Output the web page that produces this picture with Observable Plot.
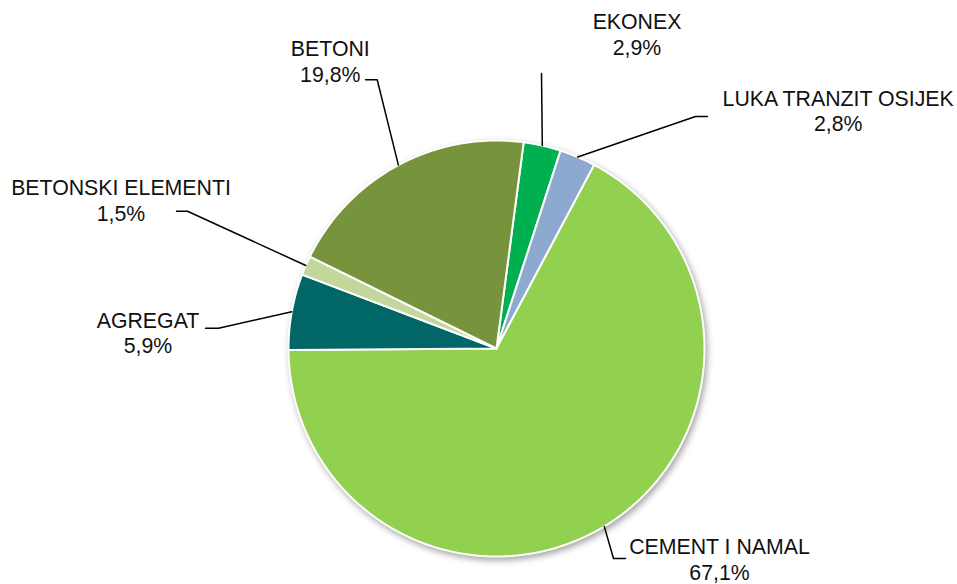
<!DOCTYPE html>
<html>
<head>
<meta charset="utf-8">
<script src="https://cdn.jsdelivr.net/npm/d3@7"></script>
<script src="https://cdn.jsdelivr.net/npm/@observablehq/plot@0.6"></script>
<style>
  html, body { margin: 0; padding: 0; background: #ffffff; }
  #chart svg { display: block; }
</style>
</head>
<body>
<div id="chart"></div>
<script>
// ---- data ----
const categories = ["EKONEX", "LUKA TRANZIT OSIJEK", "CEMENT I NAMAL", "AGREGAT", "BETONSKI ELEMENTI", "BETONI"];
const shares = [2.9, 2.8, 67.1, 5.9, 1.5, 19.8];
const sliceColors = ["#00B050", "#8EA9D0", "#92D050", "#006666", "#C3D69B", "#77933C"];

// ---- layout (pixel offsets from pie centre, y up) ----
const startAngle = 7.5;     // degrees clockwise from 12 o'clock
const radius = 208;
const leaderBends = [
  [[45, 275]],
  [[199, 232], [211, 232]],
  [[117, -210], [129, -210]],
  [[-278, 20.3], [-291, 20.3]],
  [[-309, 137.3], [-320, 137.3]],
  [[-119.3, 268.7], [-131, 268.7]]
];
const labelPos = [
  [140.5, 314.6],
  [341.7, 238],
  [223, -210.5],
  [-348.5, 16.1],
  [-375.5, 148.7],
  [-166.2, 287.5]
];

// ---- build geometry from values ----
const total = d3.sum(shares);
const wedgePts = [];
const leaderPts = [];
const labels = [];
let acc = startAngle;
const rad = a => a * Math.PI / 180;
categories.forEach((cat, i) => {
  const a0 = acc;
  const a1 = acc + shares[i] / total * 360;
  acc = a1;
  wedgePts.push({cat, color: sliceColors[i], x: 0, y: 0});
  const n = Math.max(2, Math.ceil((a1 - a0) / 0.5));
  for (let k = 0; k <= n; k++) {
    const a = rad(a0 + (a1 - a0) * k / n);
    wedgePts.push({cat, color: sliceColors[i], x: radius * Math.sin(a), y: radius * Math.cos(a)});
  }
  const am = rad((a0 + a1) / 2);
  leaderPts.push({cat, x: radius * Math.sin(am), y: radius * Math.cos(am)});
  leaderBends[i].forEach(([x, y]) => leaderPts.push({cat, x, y}));
  labels.push({
    x: labelPos[i][0], y: labelPos[i][1],
    text: cat + "\n" + shares[i].toFixed(1).replace(".", ",") + "%"
  });
});

const W = 957, H = 584, cx = 496, cy = 348;

const chart = Plot.plot({
  width: W,
  height: H,
  margin: 0,
  x: {domain: [-cx, W - cx], axis: null},
  y: {domain: [cy - H, cy], axis: null},
  marks: [
    Plot.line(wedgePts, {
      x: "x", y: "y", z: "cat", fill: "color",
      stroke: "#ffffff", strokeWidth: 2, strokeLinejoin: "round",
      curve: "linear-closed"
    }),
    Plot.line(leaderPts, {
      x: "x", y: "y", z: "cat", stroke: "#000000", strokeWidth: 1.5
    }),
    Plot.text(labels, {
      x: "x", y: "y", text: "text",
      fontSize: 21.3, lineHeight: 1.2,
      fontFamily: "'Liberation Sans', Arial, sans-serif",
      fill: "#111111", textAnchor: "middle"
    })
  ]
});
document.getElementById("chart").appendChild(chart);
const wedgeGroup = chart.querySelector('g[aria-label="line"]');
if (wedgeGroup) wedgeGroup.style.filter = "drop-shadow(2px 3px 3px rgba(0,0,0,0.35))";
</script>
</body>
</html>
